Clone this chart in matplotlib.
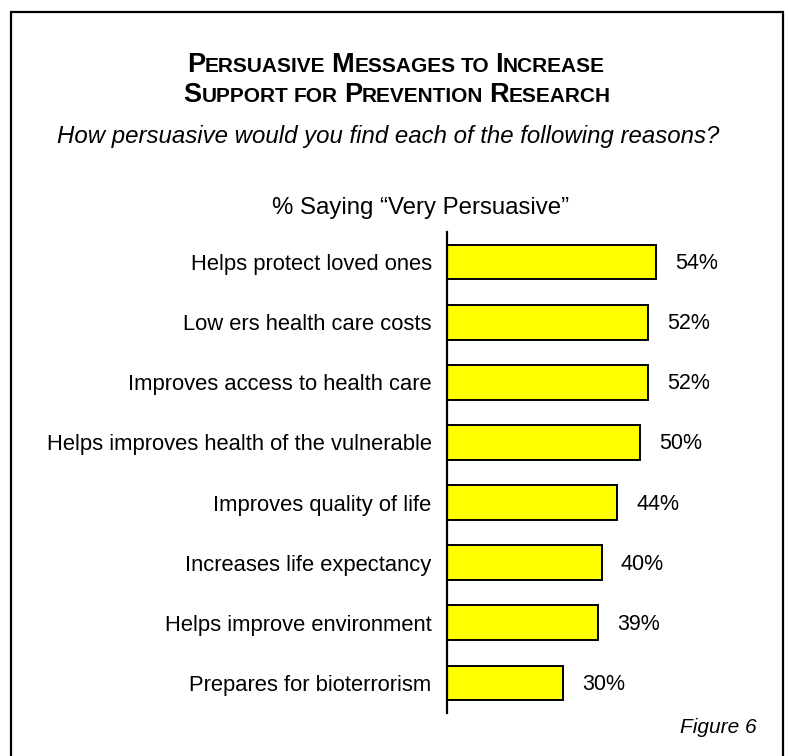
import matplotlib.pyplot as plt
from matplotlib.patches import Rectangle

# survey results, top to bottom
reasons = [
    "Helps protect loved ones",
    "Low ers health care costs",
    "Improves access to health care",
    "Helps improves health of the vulnerable",
    "Improves quality of life",
    "Increases life expectancy",
    "Helps improve environment",
    "Prepares for bioterrorism",
]
very_persuasive = [54, 52, 52, 50, 44, 40, 39, 30]

title_lines = ["Persuasive Messages to Increase", "Support for Prevention Research"]
subtitle = "How persuasive would you find each of the following reasons?"
axis_note = "% Saying \u201cVery Persuasive\u201d"
fig_note = "Figure 6"

FONT = "Liberation Sans"
W, H = 788, 756

fig = plt.figure(figsize=(W / 100, H / 100), dpi=100)
renderer = fig.canvas.get_renderer()


def smallcaps_line(text, cx, y_base, big=19.5, small=15):
    # build segments: capital first letters large, everything else small caps
    segs = []
    for i, word in enumerate(text.split()):
        if i > 0:
            segs.append((" ", small))
        if word[0].isupper():
            segs.append((word[0], big))
            if len(word) > 1:
                segs.append((word[1:].upper(), small))
        else:
            segs.append((word.upper(), small))
    arts = []
    widths = []
    for s, size in segs:
        t = fig.text(0, y_base, s, fontsize=size, fontweight="bold",
                     family=FONT, ha="left", va="baseline")
        if s == " ":
            a = fig.text(0, 0, "a a", fontsize=size, family=FONT, fontweight="bold")
            b = fig.text(0, 0, "aa", fontsize=size, family=FONT, fontweight="bold")
            w = a.get_window_extent(renderer).width - b.get_window_extent(renderer).width
            a.remove()
            b.remove()
        else:
            w = t.get_window_extent(renderer).width
        arts.append(t)
        widths.append(w)
    x = cx - sum(widths) / 2
    for t, w in zip(arts, widths):
        t.set_x(x / W)
        x += w


smallcaps_line(title_lines[0], 396, 1 - 72 / H)
smallcaps_line(title_lines[1], 397, 1 - 102 / H)

fig.text(388 / W, 1 - 143 / H, subtitle, fontsize=17.3, style="italic",
         family=FONT, ha="center", va="baseline")
fig.text(421 / W, 1 - 214 / H, axis_note, fontsize=17.3,
         family=FONT, ha="center", va="baseline")
fig.text(757 / W, 1 - 733 / H, fig_note, fontsize=15, style="italic",
         family=FONT, ha="right", va="baseline")

# outer frame
fig.patches.append(Rectangle((11 / W, -0.05), (783 - 11) / W, 1.05 - 12 / H,
                             transform=fig.transFigure, fill=False,
                             edgecolor="black", linewidth=1.6))

ax = fig.add_axes([447 / W, 1 - 713 / H, 232 / W, (713 - 232) / H])
pos = list(range(len(reasons)))
bars = ax.barh(pos, very_persuasive, height=0.58, color="#FFFF00",
               edgecolor="black", linewidth=1.4)
ax.set_ylim(len(reasons) - 0.5, -0.5)
ax.set_xlim(0, 60)

for b, v in zip(bars, very_persuasive):
    ax.annotate(f"{v}%", (b.get_width(), b.get_y() + b.get_height() / 2),
                xytext=(19, -7), textcoords="offset pixels",
                ha="left", va="baseline", fontsize=15.5, family=FONT)

ax.set_yticks(pos)
ax.set_yticklabels(reasons, fontsize=15.8, family=FONT)
ax.tick_params(axis="y", length=0, pad=11)
ax.set_xticks([])
for side in ["top", "right", "bottom"]:
    ax.spines[side].set_visible(False)
ax.spines["left"].set_linewidth(1.6)
ax.patch.set_visible(False)

fig.savefig("out.png", dpi=100)
